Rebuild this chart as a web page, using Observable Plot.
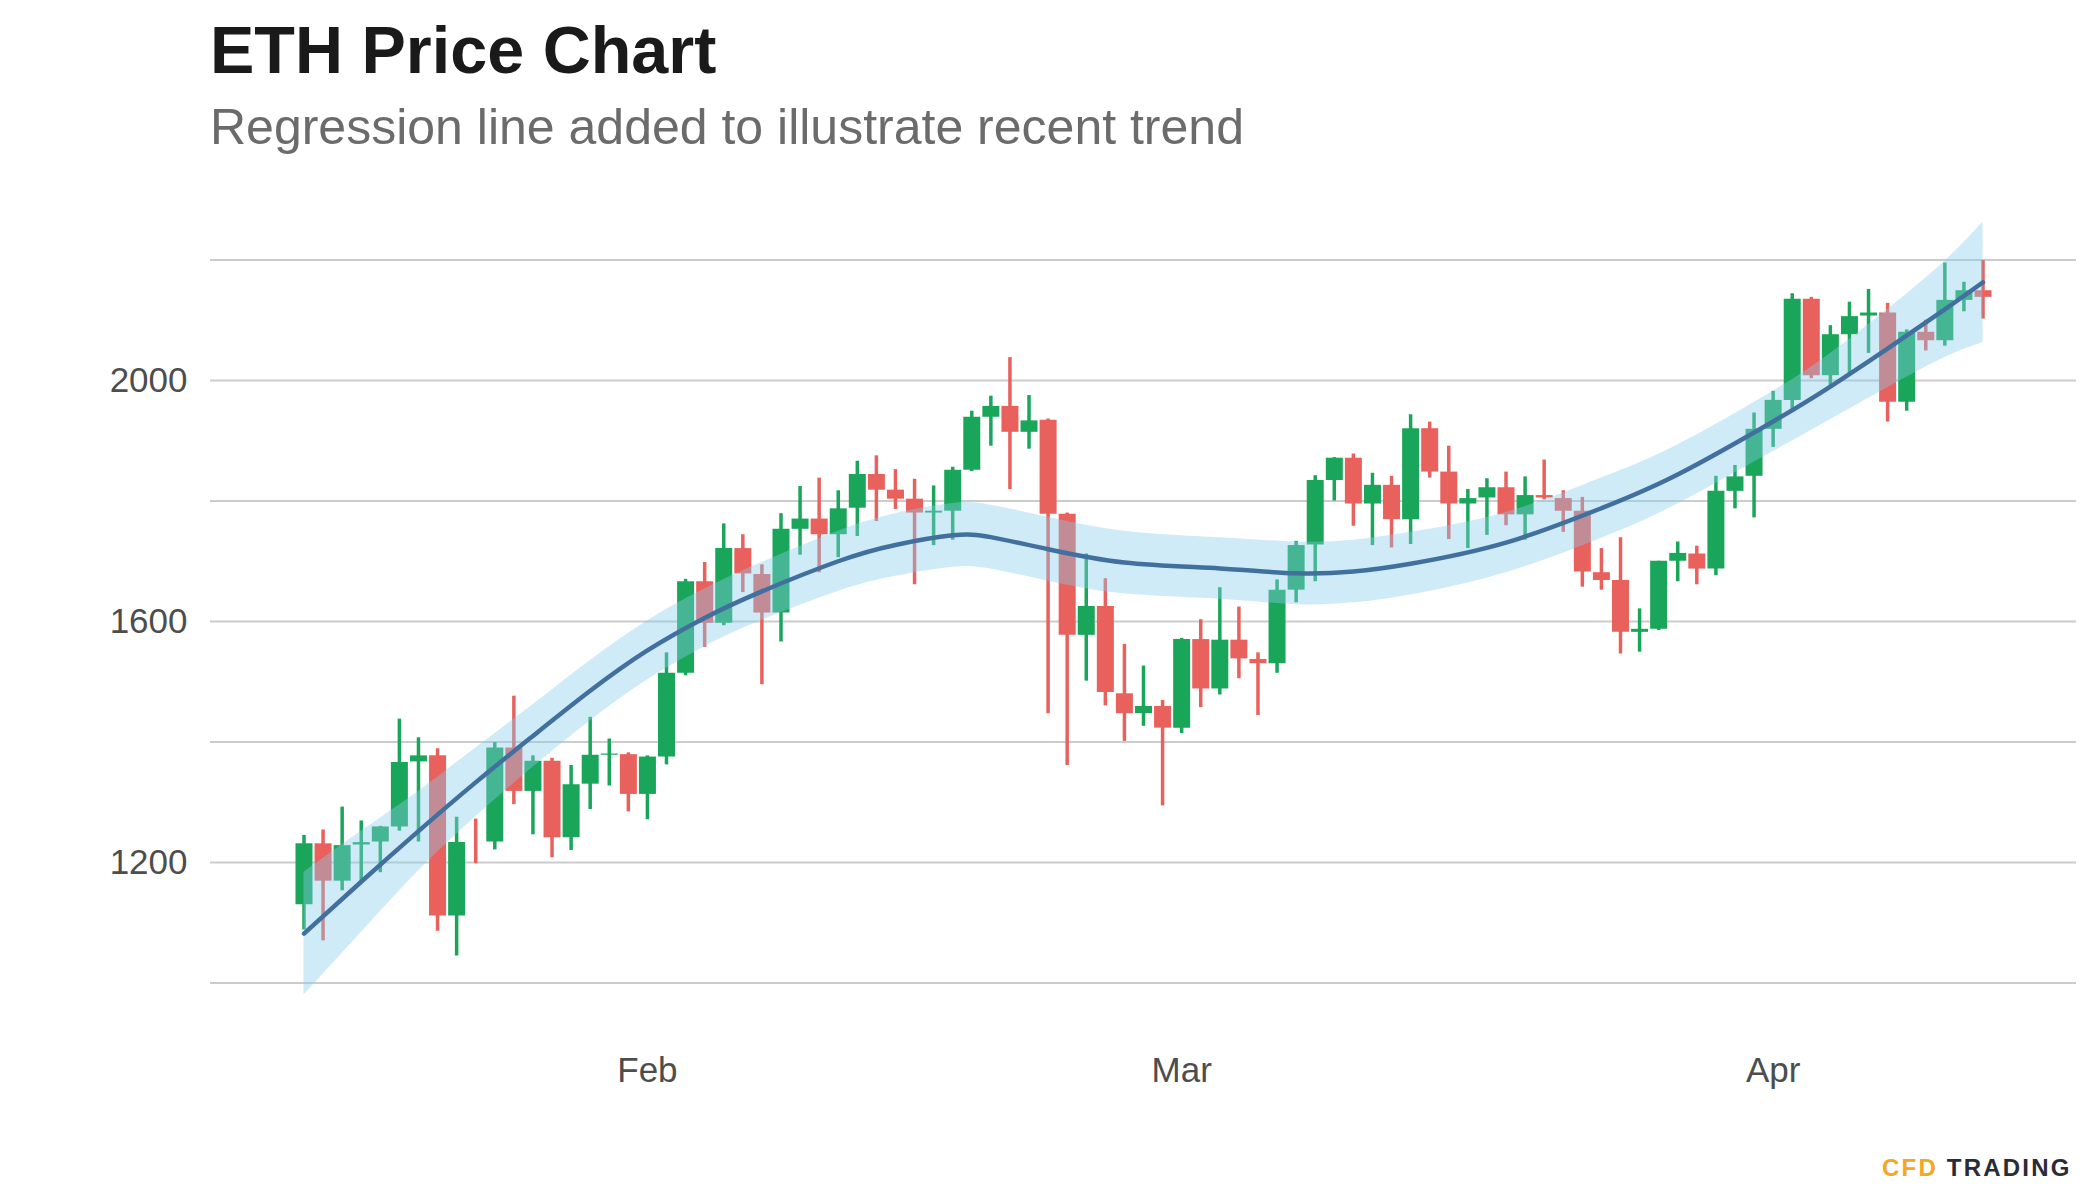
<!DOCTYPE html>
<html>
<head>
<meta charset="utf-8">
<script src="https://cdn.jsdelivr.net/npm/d3@7"></script>
<script src="https://cdn.jsdelivr.net/npm/@observablehq/plot@0.6"></script>
<style>
  html, body { margin: 0; padding: 0; background: #ffffff; }
  body { width: 2100px; height: 1200px; position: relative; overflow: hidden; font-family: "Liberation Sans", Arial, Helvetica, sans-serif; }
  #title { position: absolute; left: 210px; top: 17px; font-size: 66.5px; line-height: 66.5px; font-weight: bold; color: #1a1a1a; white-space: nowrap; }
  #subtitle { position: absolute; left: 210px; top: 102px; font-size: 50px; line-height: 50px; color: #6b6b6b; white-space: nowrap; }
  #chart { position: absolute; left: 0; top: 180px; }
  #logo { position: absolute; left: 1882px; top: 1156px; font-size: 24px; line-height: 24px; font-weight: bold; letter-spacing: 2.2px; white-space: nowrap; }
  #logo .a { color: #f5a623; }
  #logo .b { color: #2b2b38; }
</style>
</head>
<body>
<div id="title">ETH Price Chart</div>
<div id="subtitle">Regression line added to illustrate recent trend</div>
<div id="chart"></div>
<div id="logo"><span class="a">CFD</span> <span class="b">TRADING</span></div>
<script>
// ---- Candle data (daily) ----
const dates = [
  "2023-01-14","2023-01-15","2023-01-16","2023-01-17","2023-01-18","2023-01-19","2023-01-20","2023-01-21","2023-01-22","2023-01-23",
  "2023-01-24","2023-01-25","2023-01-26","2023-01-27","2023-01-28","2023-01-29","2023-01-30","2023-01-31","2023-02-01","2023-02-02",
  "2023-02-03","2023-02-04","2023-02-05","2023-02-06","2023-02-07","2023-02-08","2023-02-09","2023-02-10","2023-02-11","2023-02-12",
  "2023-02-13","2023-02-14","2023-02-15","2023-02-16","2023-02-17","2023-02-18","2023-02-19","2023-02-20","2023-02-21","2023-02-22",
  "2023-02-23","2023-02-24","2023-02-25","2023-02-26","2023-02-27","2023-02-28","2023-03-01","2023-03-02","2023-03-03","2023-03-04",
  "2023-03-05","2023-03-06","2023-03-07","2023-03-08","2023-03-09","2023-03-10","2023-03-11","2023-03-12","2023-03-13","2023-03-14",
  "2023-03-15","2023-03-16","2023-03-17","2023-03-18","2023-03-19","2023-03-20","2023-03-21","2023-03-22","2023-03-23","2023-03-24",
  "2023-03-25","2023-03-26","2023-03-27","2023-03-28","2023-03-29","2023-03-30","2023-03-31","2023-04-01","2023-04-02","2023-04-03",
  "2023-04-04","2023-04-05","2023-04-06","2023-04-07","2023-04-08","2023-04-09","2023-04-10","2023-04-11","2023-04-12"
];
const open = [
  1130,1231,1169,1229,1234,1259,1367,1377,1111,1235,
  1234,1390,1318,1368,1241,1330,1378,1379,1313,1375,
  1514,1666,1597,1721,1678,1614,1753,1770,1744,1788,
  1844,1818,1803,1780,1783,1851,1939,1957,1914,1934,
  1778,1577,1625,1480,1447,1459,1423,1570,1488,1569,
  1537,1530,1652,1727,1834,1871,1795,1826,1769,1920,
  1848,1795,1805,1822,1777,1809,1804,1783,1681,1668,
  1582,1587,1700,1712,1687,1816,1841,1919,1967,2135,
  2008,2076,2107,2112,1964,2080,2066,2133,2149
];
const high = [
  1245,1254,1292,1269,1260,1438,1407,1389,1275,1272,
  1399,1476,1377,1373,1361,1441,1405,1382,1377,1548,
  1670,1698,1762,1744,1694,1779,1824,1838,1817,1866,
  1875,1852,1836,1825,1856,1949,1974,2038,1975,1936,
  1780,1712,1671,1562,1526,1469,1572,1603,1656,1624,
  1548,1669,1733,1842,1872,1878,1846,1841,1943,1931,
  1891,1819,1837,1848,1840,1868,1817,1806,1721,1739,
  1621,1700,1732,1725,1841,1859,1946,1982,2144,2138,
  2091,2130,2151,2128,2084,2100,2195,2163,2199
];
const low = [
  1088,1070,1153,1166,1183,1252,1234,1086,1045,1198,
  1221,1296,1246,1208,1220,1288,1327,1284,1271,1362,
  1510,1557,1593,1648,1495,1566,1710,1681,1706,1741,
  1766,1786,1661,1726,1735,1849,1891,1819,1886,1447,
  1361,1501,1460,1401,1426,1294,1414,1457,1478,1505,
  1444,1514,1631,1666,1800,1758,1726,1722,1728,1838,
  1736,1721,1743,1759,1735,1802,1748,1657,1652,1546,
  1549,1585,1666,1661,1676,1787,1772,1889,1950,2003,
  1989,2008,2045,1931,1949,2049,2057,2114,2102
];
const close = [
  1231,1169,1228,1233,1259,1366,1377,1111,1233,1235,
  1390,1318,1368,1241,1329,1378,1380,1313,1375,1514,
  1666,1597,1721,1679,1614,1753,1770,1744,1787,1844,
  1818,1803,1780,1783,1851,1939,1957,1914,1933,1778,
  1577,1625,1482,1447,1459,1423,1570,1488,1569,1538,
  1530,1652,1726,1834,1871,1795,1826,1769,1920,1848,
  1795,1804,1822,1777,1809,1805,1783,1682,1668,1582,
  1587,1700,1713,1687,1816,1840,1919,1967,2135,2008,
  2076,2106,2112,1964,2080,2066,2133,2149,2138
];

// ---- Smoothed regression line with confidence band ----
const regDates = ["2023-01-14","2023-01-17","2023-01-20","2023-01-23","2023-01-26","2023-01-29","2023-02-01","2023-02-04","2023-02-07",
  "2023-02-11","2023-02-14","2023-02-17","2023-02-19","2023-02-22","2023-02-26","2023-03-03","2023-03-07","2023-03-10","2023-03-13",
  "2023-03-18","2023-03-23","2023-03-27","2023-04-01","2023-04-04","2023-04-07","2023-04-10","2023-04-12"];
const regMid   = [1082,1168,1252,1333,1410,1485,1552,1606,1650,1700,1727,1743,1740,1720,1698,1688,1680,1683,1696,1731,1788,1844,1932,1990,2053,2118,2163];
const regUpper = [1184,1252,1318,1390,1462,1535,1601,1654,1698,1750,1779,1796,1793,1773,1750,1739,1732,1735,1748,1781,1838,1893,1982,2045,2118,2198,2263];
const regLower = [ 980,1084,1186,1276,1358,1435,1503,1558,1602,1650,1675,1690,1687,1667,1646,1637,1628,1631,1644,1681,1738,1795,1882,1935,1988,2038,2063];

// ---- Axis values ----
const yGrid = [1000, 1200, 1400, 1600, 1800, 2000, 2200];
const yTickValues = [1200, 1600, 2000];
const xTickValues = ["2023-02-01", "2023-03-01", "2023-04-01"];

const UP = "#1aa65a", DOWN = "#e8615d";

const candles = dates.map((d, i) => ({
  date: new Date(d), open: open[i], high: high[i], low: low[i], close: close[i],
  dir: close[i] > open[i] ? "up" : "down"
}));
const reg = regDates.map((d, i) => ({ date: new Date(d), mid: regMid[i], upper: regUpper[i], lower: regLower[i] }));

const DAY = 864e5;
const feb1 = new Date("2023-02-01").getTime();
const xDomain = [new Date(feb1 - 22.9 * DAY), new Date(feb1 + 74.9 * DAY)];

const chart = Plot.plot({
  width: 2100,
  height: 940,
  marginTop: 79.5,
  marginBottom: 137.5,
  marginLeft: 210,
  marginRight: 24,
  style: { fontFamily: "'Liberation Sans', Arial, Helvetica, sans-serif", fontSize: "35px", color: "#4d4d4d", background: "transparent" },
  x: { type: "utc", domain: xDomain, ticks: xTickValues.map(d => new Date(d)), tickFormat: "%b", tickSize: 0, tickPadding: 74, label: null },
  y: { domain: [1000, 2200], ticks: yTickValues, tickFormat: d => String(d), tickSize: 0, tickPadding: 23, label: null },
  color: { domain: ["up", "down"], range: [UP, DOWN] },
  marks: [
    Plot.ruleY(yGrid, { stroke: "#cccccc", strokeWidth: 2 }),
    Plot.ruleX(candles, { x: "date", y1: "low", y2: "high", stroke: "dir", strokeWidth: 3.5 }),
    Plot.ruleX(candles, { x: "date", y1: "open", y2: "close", stroke: "dir", strokeWidth: 17 }),
    Plot.areaY(reg, { x: "date", y1: "lower", y2: "upper", fill: "#87ceeb", fillOpacity: 0.4, curve: "natural" }),
    Plot.line(reg, { x: "date", y: "mid", stroke: "#41709f", strokeWidth: 4.5, curve: "natural" })
  ]
});
document.getElementById("chart").appendChild(chart);
</script>
</body>
</html>
